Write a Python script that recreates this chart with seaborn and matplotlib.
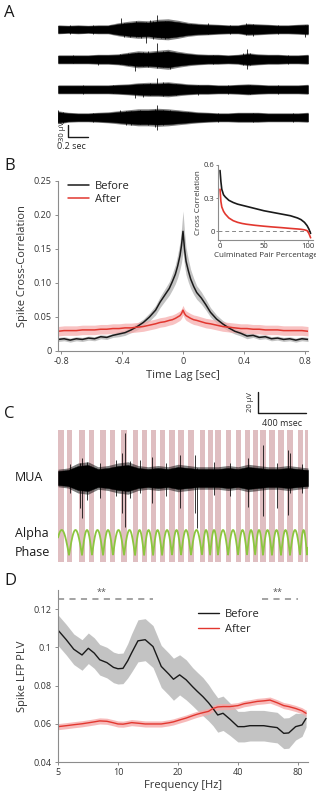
import numpy as np
import matplotlib
matplotlib.use("Agg")
import matplotlib.pyplot as plt
import seaborn as sns

# ---------------- data ----------------
# Panel A: raw traces (time in sec, half-width of the noise band in uV)
a_time = [0.0, 0.1, 0.2, 0.3, 0.4, 0.5, 0.6, 0.7, 0.8, 0.9, 1.0, 1.1, 1.2,
          1.3, 1.4, 1.5, 1.6, 1.7, 1.8, 1.9, 2.0, 2.1, 2.2, 2.3, 2.4, 2.5]
a_env1 = [9, 8, 9, 8, 9, 9, 13, 16, 18, 17, 20, 21, 18, 14, 12, 11, 10, 9, 9, 12, 11, 10, 9, 9, 10, 11]
a_env2 = [9, 9, 9, 9, 10, 10, 11, 14, 17, 16, 18, 20, 16, 13, 11, 10, 10, 9, 10, 13, 11, 10, 10, 9, 9, 10]
a_env3 = [9, 9, 9, 9, 9, 9, 10, 11, 13, 14, 14, 15, 13, 11, 10, 10, 9, 9, 10, 11, 10, 9, 9, 9, 9, 10]
a_env4 = [13, 10, 9, 9, 10, 11, 13, 15, 17, 17, 18, 17, 15, 13, 11, 10, 9, 9, 10, 10, 10, 9, 9, 9, 9, 10]
a_spike_t1 = [0.12, 0.35, 0.63, 0.66, 0.72, 0.78, 0.83, 0.88, 0.92, 0.95, 0.99, 1.03, 1.07, 1.14, 1.20,
              1.33, 1.50, 1.72, 1.88, 1.95, 2.20, 2.47]
a_spike_up1 = [12, 10, 28, 16, 15, 22, 17, 18, 24, 20, 35, 18, 20, 16, 16, 14, 15, 12, 16, 14, 11, 12]
a_spike_dn1 = [11, 12, 12, 18, 20, 18, 22, 35, 16, 24, 20, 22, 25, 18, 14, 12, 12, 12, 14, 16, 12, 20]
a_spike_t2 = [0.15, 0.40, 0.62, 0.70, 0.77, 0.85, 0.90, 0.99, 1.05, 1.12, 1.25, 1.55, 1.85, 1.89, 1.92, 2.3]
a_spike_up2 = [10, 8, 14, 16, 15, 18, 20, 40, 20, 14, 14, 12, 16, 25, 16, 11]
a_spike_dn2 = [10, 15, 12, 14, 28, 16, 18, 22, 18, 25, 12, 12, 14, 25, 14, 12]
a_spike_t3 = [0.25, 0.55, 0.77, 0.85, 0.92, 0.99, 1.05, 1.18, 1.40, 1.70, 1.92, 2.2]
a_spike_up3 = [10, 11, 10, 14, 15, 28, 18, 13, 12, 11, 12, 10]
a_spike_dn3 = [11, 10, 22, 18, 14, 12, 16, 14, 14, 12, 12, 11]
a_spike_t4 = [0.0, 0.05, 0.35, 0.62, 0.68, 0.73, 0.82, 0.90, 0.97, 0.99, 1.05, 1.12, 1.30, 1.6, 1.95, 2.35]
a_spike_up4 = [18, 14, 11, 18, 16, 16, 18, 17, 20, 32, 18, 18, 14, 11, 12, 10]
a_spike_dn4 = [15, 14, 12, 10, 18, 20, 16, 20, 25, 32, 20, 14, 10, 12, 11, 12]

# Panel B: spike cross-correlation vs time lag
lags = [-0.82, -0.78, -0.74, -0.70, -0.66, -0.62, -0.58, -0.54, -0.50, -0.46, -0.42, -0.38, -0.34,
        -0.30, -0.26, -0.22, -0.18, -0.15, -0.12, -0.09, -0.07, -0.05, -0.035, -0.02, -0.01, 0.0,
        0.01, 0.02, 0.035, 0.05, 0.07, 0.09, 0.12, 0.15, 0.18, 0.22, 0.26, 0.30, 0.34, 0.38,
        0.42, 0.46, 0.50, 0.54, 0.58, 0.62, 0.66, 0.70, 0.74, 0.78, 0.82]
cc_before = [0.017, 0.018, 0.016, 0.018, 0.017, 0.019, 0.018, 0.021, 0.020, 0.023, 0.025, 0.027, 0.031,
             0.036, 0.042, 0.050, 0.060, 0.072, 0.082, 0.092, 0.102, 0.113, 0.125, 0.140, 0.155, 0.176,
             0.150, 0.132, 0.118, 0.106, 0.095, 0.086, 0.078, 0.068, 0.057, 0.047, 0.040, 0.034, 0.029, 0.026,
             0.022, 0.023, 0.020, 0.021, 0.018, 0.019, 0.017, 0.018, 0.016, 0.018, 0.017]
cc_before_err = [0.003, 0.003, 0.003, 0.003, 0.003, 0.003, 0.003, 0.003, 0.003, 0.003, 0.004, 0.004, 0.004,
                 0.005, 0.005, 0.006, 0.007, 0.008, 0.009, 0.010, 0.012, 0.014, 0.017, 0.020, 0.025, 0.030,
                 0.025, 0.020, 0.017, 0.014, 0.012, 0.010, 0.009, 0.008, 0.007, 0.006, 0.005, 0.005, 0.004, 0.004,
                 0.004, 0.003, 0.003, 0.003, 0.003, 0.003, 0.003, 0.003, 0.003, 0.003, 0.003]
cc_after = [0.029, 0.030, 0.030, 0.030, 0.031, 0.031, 0.031, 0.032, 0.032, 0.033, 0.033, 0.034, 0.034,
            0.035, 0.036, 0.038, 0.040, 0.042, 0.043, 0.045, 0.046, 0.048, 0.050, 0.052, 0.055, 0.060,
            0.055, 0.052, 0.050, 0.048, 0.046, 0.045, 0.043, 0.041, 0.040, 0.038, 0.036, 0.035, 0.034, 0.033,
            0.033, 0.032, 0.032, 0.031, 0.031, 0.031, 0.030, 0.030, 0.030, 0.030, 0.029]
cc_after_err = 0.007

# Panel B inset: sorted pair correlations
pair_pct = [0, 1, 2, 4, 6, 10, 15, 20, 25, 30, 40, 50, 60, 70, 80, 88, 92, 96, 99, 101, 103]
pair_before = [0.55, 0.45, 0.38, 0.33, 0.31, 0.28, 0.26, 0.245, 0.235, 0.225, 0.205, 0.185, 0.17,
               0.155, 0.14, 0.12, 0.105, 0.08, 0.05, 0.02, -0.02]
pair_after = [0.38, 0.27, 0.22, 0.18, 0.155, 0.12, 0.095, 0.08, 0.07, 0.063, 0.053, 0.045, 0.038,
              0.032, 0.025, 0.02, 0.017, 0.012, 0.005, -0.02, -0.06]

# Panel C: MUA band (time in ms, half-width in uV), large spikes, alpha troughs
c_time = [0, 83, 167, 250, 333, 417, 500, 583, 667, 750, 833, 917, 1000, 1083, 1167, 1250,
          1333, 1417, 1500, 1583, 1667, 1750, 1833, 1917, 2000, 2083]
c_env = [7, 8, 12, 13, 9, 10, 12, 13, 10, 9, 10, 9, 11, 10, 9, 9, 9, 10, 9, 11, 10, 9, 9, 10, 9, 8]
c_spike_t = [100, 183, 200, 240, 350, 480, 533, 558, 600, 683, 783, 900, 1017, 1142, 1158, 1300,
             1433, 1583, 1708, 1825, 1917, 1933, 2030]
c_spike_up = [14, 15, 20, 16, 15, 18, 25, 45, 17, 18, 21, 15, 23, 23, 10, 16, 15, 20, 33, 15, 28, 25, 14]
c_spike_dn = [15, 30, 40, 22, 20, 18, 35, 49, 20, 15, 25, 18, 30, 35, 50, 17, 18, 29, 38, 30, 37, 15, 15]
alpha_troughs = [-30, 92, 200, 283, 375, 458, 550, 642, 717, 792, 867, 950, 1025, 1108, 1200, 1267,
                 1333, 1417, 1500, 1575, 1642, 1708, 1783, 1858, 1933, 2017, 2075, 2160]
phase_bars = [25, 92, 200, 283, 375, 458, 550, 642, 717, 792, 867, 950, 1025, 1108, 1200, 1267,
              1333, 1417, 1500, 1575, 1642, 1708, 1783, 1858, 1933, 2017, 2075]

# Panel D: spike-LFP PLV vs frequency
freq = [5, 5.5, 6, 6.6, 7.1, 7.6, 8.1, 8.8, 9.5, 10, 10.6, 11.2, 11.7, 12.6, 13.7, 15, 16.5, 18, 19, 20.4,
        22, 23.7, 25, 26.7, 28.5, 30, 31.7, 33.7, 36.5, 40, 43, 46, 50, 54, 58, 63, 68, 72, 78, 84, 88]
plv_before = [0.109, 0.104, 0.099, 0.096, 0.0995, 0.097, 0.0935, 0.092, 0.0895, 0.0888, 0.089, 0.093, 0.097,
              0.1034, 0.104, 0.1004, 0.090, 0.086, 0.0833, 0.0856, 0.083, 0.0794, 0.077, 0.0742, 0.071,
              0.068, 0.0646, 0.0655, 0.0624, 0.0585, 0.0585, 0.059, 0.059, 0.059, 0.0585, 0.058, 0.055,
              0.0552, 0.0585, 0.0594, 0.0628]
plv_before_err = [0.008, 0.008, 0.008, 0.008, 0.008, 0.008, 0.008, 0.008, 0.008, 0.008, 0.008, 0.009, 0.010,
                  0.011, 0.011, 0.011, 0.011, 0.011, 0.011, 0.0105, 0.0105, 0.010, 0.010, 0.010, 0.0095,
                  0.009, 0.009, 0.009, 0.0085, 0.008, 0.008, 0.008, 0.008, 0.008, 0.008, 0.008, 0.008,
                  0.008, 0.007, 0.006, 0.0045]
plv_after = [0.0585, 0.059, 0.0595, 0.060, 0.0605, 0.061, 0.0615, 0.0613, 0.0605, 0.0599, 0.0598, 0.0602,
             0.0606, 0.0603, 0.0599, 0.0599, 0.0599, 0.0605, 0.061, 0.062, 0.063, 0.0642, 0.065, 0.0658,
             0.0665, 0.068, 0.0688, 0.069, 0.069, 0.0695, 0.0705, 0.071, 0.0717, 0.072, 0.0724, 0.071,
             0.0695, 0.069, 0.068, 0.0668, 0.0655]
plv_after_err = 0.0016
sig_ranges = [(5, 15), (53, 80)]
sig_star_freq = [8.3, 63]

# ---------------- figure ----------------
sns.set_style("ticks")
plt.rcParams['font.family'] = ['Open Sans', 'DejaVu Sans']
W, H = 316, 792
fig = plt.figure(figsize=(W / 100, H / 100), dpi=100)


def box(x0, y0, x1, y1):
    # pixel box (top-left origin) -> figure fraction rect
    return [x0 / W, 1 - y1 / H, (x1 - x0) / W, (y1 - y0) / H]


def ftext(x, y, s, **kw):
    fig.text(x / W, 1 - y / H, s, **kw)


BLACK = '#1a1a1a'
RED = '#e2372f'
SPINE = '#8c8c8c'
LABEL = '#333333'


def style_axes(ax, size=6.5):
    sns.despine(ax=ax)
    for sp in ['left', 'bottom']:
        ax.spines[sp].set_color(SPINE)
        ax.spines[sp].set_linewidth(0.8)
    ax.tick_params(colors=SPINE, labelcolor=LABEL, labelsize=size, length=2.5, width=0.7, pad=2)


def noisy_band(ax, t, mid, env, st, su, sd, z=2):
    env = np.array(env)
    # darker fuzz around the dense core, then the core, then the big spikes
    ax.fill_between(t, mid - 1.25 * env, mid + 1.25 * env, color='black', alpha=0.5, lw=0, zorder=z)
    ax.fill_between(t, mid - env, mid + env, color='black', lw=0.3, zorder=z)
    ax.vlines(st, mid - np.array(sd), mid + np.array(su), color='black', lw=0.55, zorder=z)


# panel letters
for letter, py in [('A', 13), ('B', 166), ('C', 414), ('D', 581)]:
    ftext(4, py, letter, fontsize=12, color=BLACK, va='center', ha='left')

# ---- Panel A ----
axA = fig.add_axes(box(58, 5, 308, 140))
axA.set_xlim(0, 2.5)
axA.set_ylim(0, 337.5)
axA.axis('off')
a_offsets = [276.75, 201.75, 126.75, 56.75]
traces = [(a_env1, a_spike_t1, a_spike_up1, a_spike_dn1),
          (a_env2, a_spike_t2, a_spike_up2, a_spike_dn2),
          (a_env3, a_spike_t3, a_spike_up3, a_spike_dn3),
          (a_env4, a_spike_t4, a_spike_up4, a_spike_dn4)]
for off, (env, st, su, sd) in zip(a_offsets, traces):
    noisy_band(axA, a_time, off, env, st, su, sd)
# scale bar 30 uV / 0.2 sec
axA.plot([0.1, 0.1, 0.3], [37.5, 7.5, 7.5], color=BLACK, lw=1.0, clip_on=False)
axA.text(0.045, 22.5, '30 µV', rotation=90, fontsize=5.5, ha='center', va='center', clip_on=False)
axA.text(-0.01, -16, '0.2 sec', fontsize=6.5, ha='left', va='center', clip_on=False)

# ---- Panel B ----
axB = fig.add_axes(box(58, 181, 308, 351))
lb = np.array(lags)
axB.fill_between(lb, np.array(cc_before) - np.array(cc_before_err), np.array(cc_before) + np.array(cc_before_err),
                 color='#b5b5b5', alpha=0.8, lw=0)
axB.fill_between(lb, np.array(cc_after) - cc_after_err, np.array(cc_after) + cc_after_err,
                 color='#f6a9a9', alpha=0.7, lw=0)
sns.lineplot(x=lags, y=cc_before, ax=axB, color=BLACK, lw=1.1, label='Before')
sns.lineplot(x=lags, y=cc_after, ax=axB, color=RED, lw=1.1, label='After')
axB.set_xlim(-0.82, 0.82)
axB.set_ylim(0, 0.25)
axB.set_xticks([-0.8, -0.4, 0, 0.4, 0.8])
axB.set_xticklabels(['-0.8', '-0.4', '0', '0.4', '0.8'])
axB.set_yticks([0, 0.05, 0.10, 0.15, 0.20, 0.25])
axB.set_yticklabels(['0', '0.05', '0.10', '0.15', '0.20', '0.25'])
style_axes(axB)
axB.set_xlabel('Time Lag [sec]', fontsize=8, color=LABEL, labelpad=3)
axB.set_ylabel('Spike Cross-Correlation', fontsize=8, color=LABEL, labelpad=4)
axB.legend(frameon=False, loc='upper left', bbox_to_anchor=(0.0, 1.06), fontsize=8,
           handlelength=1.9, labelspacing=0.2, handletextpad=0.5)

# inset
axI = fig.add_axes(box(218, 165, 313, 240))
axI.axhline(0, color='#888888', lw=0.7, ls=(0, (4, 3)))
sns.lineplot(x=pair_pct, y=pair_before, ax=axI, color=BLACK, lw=1.2)
sns.lineplot(x=pair_pct, y=pair_after, ax=axI, color=RED, lw=1.2)
axI.set_xlim(-2.3, 105.7)
axI.set_ylim(-0.08, 0.6)
axI.set_xticks([0, 50, 100])
axI.set_yticks([0, 0.3, 0.6])
axI.set_yticklabels(['0', '0.3', '0.6'])
style_axes(axI, size=5.5)
axI.tick_params(length=1.5, pad=1)
axI.set_xlabel('Culminated Pair Percentage', fontsize=5.8, color=LABEL, labelpad=1)
axI.set_ylabel('Cross Correlation', fontsize=5.8, color=LABEL, labelpad=1)

# ---- Panel C ----
axC = fig.add_axes(box(58, 385, 308, 565))
axC.set_xlim(0, 2083)
axC.set_ylim(0, 180)
axC.axis('off')
for bc in phase_bars:
    axC.axvspan(bc - 21, bc + 21, ymin=3 / 180, ymax=135 / 180, color='#d5a9ad', alpha=0.75, lw=0, zorder=1)
noisy_band(axC, c_time, 87, c_env, c_spike_t, c_spike_up, c_spike_dn)
# alpha phase curve from trough times
tt = np.linspace(0, 2083, 1500)
k = np.interp(tt, alpha_troughs, np.arange(len(alpha_troughs)))
green_y = 10 + 25 * np.abs(np.sin(np.pi * k))
sns.lineplot(x=tt, y=green_y, ax=axC, color='#8cc63f', lw=1.3, zorder=3)
# scale bar 20 uV / 400 msec
axC.plot([1667, 1667, 2067], [173, 152, 152], color=BLACK, lw=1.0, clip_on=False)
axC.text(1600, 163, '20 µV', rotation=90, fontsize=5.5, ha='center', va='center')
axC.text(1870, 141, '400 msec', fontsize=6.5, ha='center', va='center')
ftext(15, 478, 'MUA', fontsize=9, color=BLACK, va='center', ha='left')
ftext(15, 533, 'Alpha', fontsize=9, color=BLACK, va='center', ha='left')
ftext(15, 552, 'Phase', fontsize=9, color=BLACK, va='center', ha='left')

# ---- Panel D ----
axD = fig.add_axes(box(58, 590, 308, 762))
fr = np.array(freq)
axD.fill_between(fr, np.array(plv_before) - np.array(plv_before_err), np.array(plv_before) + np.array(plv_before_err),
                 color='#b5b5b5', alpha=0.8, lw=0)
axD.fill_between(fr, np.array(plv_after) - plv_after_err, np.array(plv_after) + plv_after_err,
                 color='#f6a9a9', alpha=0.8, lw=0)
sns.lineplot(x=freq, y=plv_before, ax=axD, color=BLACK, lw=1.0, label='Before')
sns.lineplot(x=freq, y=plv_after, ax=axD, color=RED, lw=1.0, label='After')
axD.set_xscale('log')
axD.set_xlim(5, 90)
axD.set_ylim(0.04, 0.13)
axD.set_xticks([5, 10, 20, 40, 80])
axD.set_xticklabels(['5', '10', '20', '40', '80'])
axD.minorticks_off()
axD.set_yticks([0.04, 0.06, 0.08, 0.10, 0.12])
axD.set_yticklabels(['0.04', '0.06', '0.08', '0.1', '0.12'])
for f0, f1 in sig_ranges:
    axD.plot([f0, f1], [0.1252, 0.1252], color='#8a8a8a', lw=1.1, ls=(0, (4, 3.5)))
for fs in sig_star_freq:
    axD.text(fs, 0.1262, '**', fontsize=6.5, color='#555555', ha='center', va='bottom')
style_axes(axD)
axD.set_xlabel('Frequency [Hz]', fontsize=8, color=LABEL, labelpad=2)
axD.set_ylabel('Spike LFP PLV', fontsize=8, color=LABEL, labelpad=4)
axD.legend(frameon=False, loc='upper left', bbox_to_anchor=(0.52, 0.95), fontsize=8,
           handlelength=1.9, labelspacing=0.4, handletextpad=0.5)

fig.savefig('out.png', dpi=100)
